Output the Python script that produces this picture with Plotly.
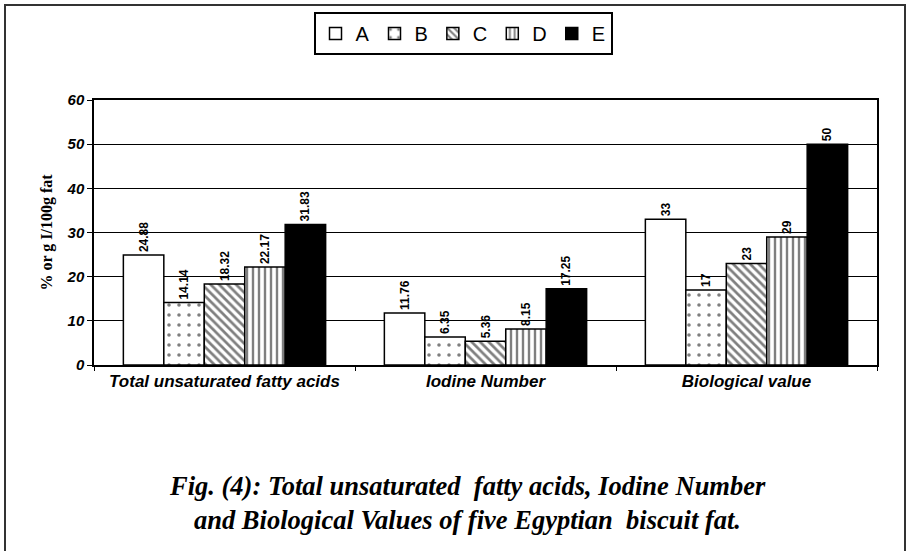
import plotly.graph_objects as go

categories = ["Total unsaturated fatty acids", "Iodine Number", "Biological value"]
series_names = ["A", "B", "C", "D", "E"]
values_A = [24.88, 11.76, 33]
values_B = [14.14, 6.35, 17]
values_C = [18.32, 5.36, 23]
values_D = [22.17, 8.15, 29]
values_E = [31.83, 17.25, 50]
y_ticks = [0, 10, 20, 30, 40, 50, 60]

series_values = [values_A, values_B, values_C, values_D, values_E]
patterns = [
    dict(shape=""),
    dict(shape=".", size=10, solidity=0.1, fgcolor="black", bgcolor="white", fillmode="overlay"),
    dict(shape="\\", size=6, solidity=0.45, fgcolor="black", bgcolor="white", fillmode="overlay"),
    dict(shape="|", size=6, solidity=0.4, fgcolor="black", bgcolor="white", fillmode="overlay"),
    dict(shape=""),
]
colors = ["white", "white", "white", "white", "black"]

fig = go.Figure()
for name, vals, pat, col in zip(series_names, series_values, patterns, colors):
    fig.add_trace(go.Bar(
        name=name, x=categories, y=vals,
        marker=dict(color=col, line=dict(color="black", width=1.5), pattern=pat),
        texttemplate="%{y}", textposition="outside", textangle=-90,
        textfont=dict(family="Liberation Sans", size=12, color="black", weight="bold"),
        cliponaxis=False,
    ))

L, R, T, B = 94, 31, 100, 186
W, H = 908, 551
pw, ph = W - L - R, H - T - B

fig.update_layout(
    width=W, height=H,
    margin=dict(l=L, r=R, t=T, b=B),
    paper_bgcolor="white", plot_bgcolor="white",
    barmode="group", bargap=0.225, bargroupgap=0,
    showlegend=True,
    legend=dict(orientation="h", x=(463 - L) / pw, xanchor="center",
                y=(H - B - 12) / ph, yanchor="top",
                bordercolor="black", borderwidth=2, bgcolor="white",
                font=dict(family="Liberation Sans", size=20, color="black"),
                itemwidth=30, tracegroupgap=0),
    xaxis=dict(showline=True, linecolor="black", linewidth=1.5, mirror=True,
               ticks="outside", tickson="boundaries", ticklen=4, tickcolor="black",
               tickfont=dict(family="Liberation Sans", size=17, color="black",
                             weight="bold", style="italic")),
    yaxis=dict(range=[0, 60], tickvals=y_ticks, showline=True, linecolor="black",
               linewidth=1.5, mirror=True, showgrid=True, gridcolor="black", gridwidth=1,
               ticks="outside", ticklen=5, tickcolor="black", zeroline=False,
               tickfont=dict(family="Liberation Sans", size=15, color="black",
                             weight="bold", style="italic"),
               title=dict(text="% or g I/100g fat", standoff=10,
                          font=dict(family="Liberation Serif", size=16, color="black",
                                    weight="bold"))),
    annotations=[
        dict(text="<b><i>Fig. (4): Total unsaturated  fatty acids, Iodine Number</i></b>",
             xref="paper", yref="paper", x=(467 - L) / pw, y=(H - B - 486) / ph,
             showarrow=False, xanchor="center", yanchor="middle",
             font=dict(family="Liberation Serif", size=26.5, color="black")),
        dict(text="<b><i>and Biological Values of five Egyptian  biscuit fat.</i></b>",
             xref="paper", yref="paper", x=(467 - L) / pw, y=(H - B - 520) / ph,
             showarrow=False, xanchor="center", yanchor="middle",
             font=dict(family="Liberation Serif", size=26.5, color="black")),
    ],
    shapes=[
        dict(type="path", xref="paper", yref="paper",
             path=f"M {(5 - L) / pw} {(H - B - 560) / ph} L {(5 - L) / pw} {(H - B - 5) / ph} "
                  f"L {(905 - L) / pw} {(H - B - 5) / ph} L {(905 - L) / pw} {(H - B - 560) / ph}",
             line=dict(color="#333", width=2)),
    ],
)

fig.write_html("out.html", config={"displayModeBar": False},
               post_script="document.body.style.margin='0';document.body.style.overflow='hidden';")
